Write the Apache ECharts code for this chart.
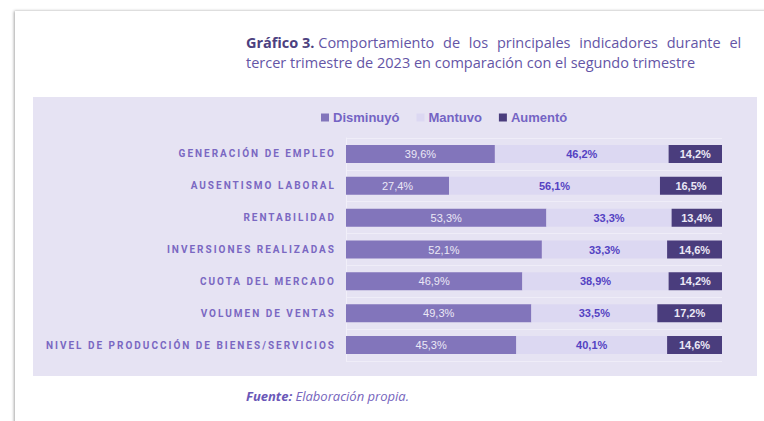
<!DOCTYPE html>
<html>
<head>
<meta charset="utf-8">
<script src="https://cdn.jsdelivr.net/npm/echarts@6/dist/echarts.min.js"></script>
<style>
  html, body { margin: 0; padding: 0; background: #fff; }
  #chart { width: 764px; height: 421px; }
  /* letter-spaced category labels (svg renderer) */
  #chart text[style*="Roboto"] { letter-spacing: 2px; }
  /* justified first title line */
  #chart text[style*="Noto Sans"] { word-spacing: 5px; }
</style>
</head>
<body>
<div id="chart"></div>
<script>
// categories, top to bottom
const indicadores = [
    'GENERACIÓN DE EMPLEO',
    'AUSENTISMO LABORAL',
    'RENTABILIDAD',
    'INVERSIONES REALIZADAS',
    'CUOTA DEL MERCADO',
    'VOLUMEN DE VENTAS',
    'NIVEL DE PRODUCCIÓN DE BIENES/SERVICIOS'
];
const disminuyo = [39.6, 27.4, 53.3, 52.1, 46.9, 49.3, 45.3];
const mantuvo   = [46.2, 56.1, 33.3, 33.3, 38.9, 33.5, 40.1];
const aumento   = [14.2, 16.5, 13.4, 14.6, 14.2, 17.2, 14.6];

const colores = ['#8275bb', '#dcd8f2', '#4a3d7d'];

// 39.6 -> "39,6%"
const fmt = p => p.value.toFixed(1).replace('.', ',') + '%';

const barLabel = (color, weight) => ({
    show: true,
    position: 'inside',
    formatter: fmt,
    color: color,
    fontFamily: 'Liberation Sans',
    fontSize: 11,
    fontWeight: weight
});

const chart = echarts.init(document.getElementById('chart'), null, { renderer: 'svg' });

chart.setOption({
    backgroundColor: '#fff',
    animation: false,
    graphic: [
        {   // page sheet with a soft edge
            type: 'rect', z: -20,
            shape: { x: 15, y: 11, width: 800, height: 500 },
            style: { fill: '#fff', shadowBlur: 3, shadowOffsetX: -1, shadowColor: 'rgba(0,0,0,0.35)' }
        },
        {   // lavender panel
            type: 'rect', z: -10,
            shape: { x: 33, y: 97, width: 724, height: 279 },
            style: { fill: '#e6e3f3' }
        }
    ],
    title: [
        {
            left: 246,
            top: 32,
            padding: 0,
            text: '{b|Gráfico 3.\u00a0}{j|Comportamiento de los principales indicadores durante el}\n{r|tercer trimestre de 2023 en comparación con el segundo trimestre}',
            textStyle: {
                fontWeight: 'normal',
                rich: {
                    b: { fontFamily: 'Open Sans', fontWeight: 'bold', fontSize: 14.5, color: '#4c4180', lineHeight: 20 },
                    j: { fontFamily: 'Open Sans, Noto Sans', fontWeight: 'normal', fontSize: 14.5, color: '#6455a6', lineHeight: 20 },
                    r: { fontFamily: 'Open Sans', fontWeight: 'normal', fontSize: 14.5, color: '#6455a6', lineHeight: 20 }
                }
            }
        },
        {
            left: 246,
            top: 389,
            padding: 0,
            text: '{b|Fuente:\u00a0}{r|Elaboración propia.}',
            textStyle: {
                fontWeight: 'normal',
                rich: {
                    b: { fontFamily: 'Open Sans', fontStyle: 'italic', fontWeight: 'bold', fontSize: 13, color: '#6a58b8' },
                    r: { fontFamily: 'Open Sans', fontStyle: 'italic', fontWeight: 'normal', fontSize: 13, color: '#7665bd' }
                }
            }
        }
    ],
    legend: {
        left: 321,
        top: 111,
        padding: 0,
        itemWidth: 8,
        itemHeight: 8,
        itemGap: 17,
        icon: 'rect',
        textStyle: { fontFamily: 'Liberation Sans', fontWeight: 'bold', fontSize: 13, color: '#7464c4', padding: [0, 0, 0, -1] },
        data: ['Disminuyó', 'Mantuvo', 'Aumentó']
    },
    grid: { left: 346, right: 42, top: 138, bottom: 60 },
    xAxis: {
        type: 'value',
        min: 0,
        max: 100,
        show: false
    },
    yAxis: {
        type: 'category',
        inverse: true,
        data: indicadores,
        axisTick: { show: false },
        axisLine: { lineStyle: { color: '#f1eff9', width: 1 } },
        splitLine: { show: true, lineStyle: { color: '#efedf8', width: 1 } },
        axisLabel: {
            margin: 10,
            fontFamily: 'Roboto',
            fontWeight: 'bold',
            fontSize: 10,
            color: '#7a68c2'
        }
    },
    series: [
        {
            name: 'Disminuyó', type: 'bar', stack: 'total', barWidth: 18,
            itemStyle: { color: colores[0] },
            label: barLabel('#ebe8f6', 'normal'),
            data: disminuyo
        },
        {
            name: 'Mantuvo', type: 'bar', stack: 'total', barWidth: 18,
            itemStyle: { color: colores[1] },
            label: barLabel('#5442c2', 'bold'),
            data: mantuvo
        },
        {
            name: 'Aumentó', type: 'bar', stack: 'total', barWidth: 18,
            itemStyle: { color: colores[2] },
            label: barLabel('#ebe8f6', 'bold'),
            data: aumento
        }
    ]
});
</script>
</body>
</html>
